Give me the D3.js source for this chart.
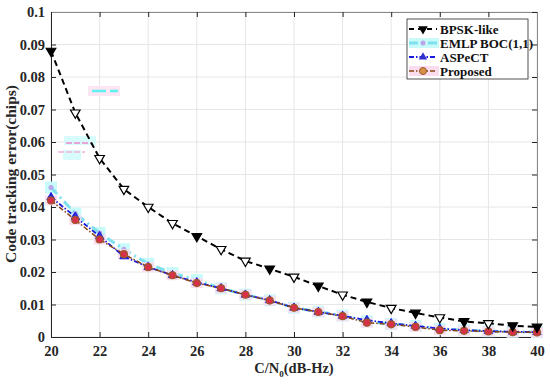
<!DOCTYPE html>
<html><head><meta charset="utf-8">
<script src="https://cdn.jsdelivr.net/npm/d3@7"></script>
<style>body{margin:0;background:#fff}svg{display:block}text{font-family:"Liberation Serif","Times New Roman",serif;font-weight:bold}</style>
</head><body><svg id="c" width="550" height="384"></svg>
<script>
const cn0 = [20,21,22,23,24,25,26,27,28,29,30,31,32,33,34,35,36,37,38,39,40];
const bpsk = [0.088,0.069,0.055,0.0455,0.040,0.035,0.031,0.027,0.0234,0.021,0.0185,0.0157,0.013,0.0108,0.0089,0.0074,0.006,0.0048,0.0042,0.0035,0.0031];
const emlp = [0.046,0.038,0.032,0.027,0.0225,0.0197,0.0175,0.015,0.013,0.0113,0.009,0.0078,0.0066,0.0048,0.0040,0.0034,0.0025,0.0021,0.0018,0.0016,0.0015];
const aspect = [0.043,0.037,0.031,0.0248,0.0215,0.019,0.0168,0.015,0.013,0.0113,0.009,0.0077,0.0065,0.0052,0.0042,0.0034,0.0026,0.0021,0.0018,0.0016,0.0015];
const proposed = [0.042,0.036,0.030,0.0255,0.0215,0.019,0.0166,0.015,0.013,0.0112,0.009,0.0077,0.0064,0.0044,0.0039,0.0031,0.0021,0.0019,0.0017,0.0015,0.0014];
const xTicks = [20,22,24,26,28,30,32,34,36,38,40];
const yTicks = [0,0.01,0.02,0.03,0.04,0.05,0.06,0.07,0.08,0.09,0.1];
const yTickLabels = ["0","0.01","0.02","0.03","0.04","0.05","0.06","0.07","0.08","0.09","0.1"];
const seriesNames = ["BPSK-like","EMLP BOC(1,1)","ASPeCT","Proposed"];
const bpskFilled = [1,0,0,0,0,0,1,0,0,1,0,1,0,1,0,1,0,1,0,1,1];

const svg = d3.select("#c");
const L=51,R=537,T=12,B=337;
const x = d3.scaleLinear().domain([20,40]).range([L,R]);
const y = d3.scaleLinear().domain([0,0.1]).range([B,T]);

// grid
const g = svg.append("g");
g.selectAll(".gx").data(xTicks).join("line").attr("x1",d=>x(d)).attr("x2",d=>x(d)).attr("y1",T).attr("y2",B).attr("stroke","#e6e6e6").attr("stroke-width",1);
g.selectAll(".gy").data(yTicks).join("line").attr("y1",d=>y(d)).attr("y2",d=>y(d)).attr("x1",L).attr("x2",R).attr("stroke","#e6e6e6").attr("stroke-width",1);

// faint ghost legend remnants seen in the original figure
const gh = svg.append("g");
gh.append("rect").attr("x",88).attr("y",86).attr("width",32).attr("height",10).attr("fill","#fde6f3");
gh.append("line").attr("x1",92).attr("x2",118).attr("y1",91).attr("y2",91).attr("stroke","#5ff0f0").attr("stroke-width",2.5).attr("stroke-dasharray","14,4,8,0");
gh.append("rect").attr("x",64).attr("y",136).attr("width",32).attr("height",9).attr("fill","#d8fbfb");
gh.append("line").attr("x1",66).attr("x2",92).attr("y1",143).attr("y2",143).attr("stroke","#ee88cc").attr("stroke-width",1.5).attr("stroke-dasharray","6,2");
gh.append("rect").attr("x",63).attr("y",150).attr("width",18).attr("height",10).attr("fill","#d8fbfb");
gh.append("line").attr("x1",58).attr("x2",85).attr("y1",152).attr("y2",152).attr("stroke","#f4b0dd").attr("stroke-width",1.5).attr("stroke-dasharray","6,2");

// axes
const xa = svg.append("g").attr("transform",`translate(0,${B})`).call(d3.axisBottom(x).tickValues(xTicks).tickSize(-5).tickPadding(9).tickFormat(d3.format("d")));
const ya = svg.append("g").attr("transform",`translate(${L},0)`).call(d3.axisLeft(y).tickValues(yTicks).tickSize(-5).tickPadding(6).tickFormat((d,i)=>yTickLabels[i]));
const xt = svg.append("g").attr("transform",`translate(0,${T})`).call(d3.axisTop(x).tickValues(xTicks).tickSize(-5).tickFormat(""));
const yr = svg.append("g").attr("transform",`translate(${R},0)`).call(d3.axisRight(y).tickValues(yTicks).tickSize(-5).tickFormat(""));
[xa,ya,xt,yr].forEach(a=>{a.selectAll("path").attr("stroke","#262626").attr("stroke-width",1);a.selectAll("line").attr("stroke","#262626");a.selectAll("text").attr("font-size",14.5).attr("fill","#262626").style("font-family","Liberation Serif").style("font-weight","bold");});
xt.select("path").attr("stroke","#888");yr.select("path").attr("stroke","#888");

// titles
svg.append("text").attr("x",294).attr("y",373).attr("text-anchor","middle").attr("font-size",14.5).attr("fill","#262626")
  .call(t=>{t.append("tspan").text("C/N");t.append("tspan").attr("font-size",9).attr("dy",4).text("0");t.append("tspan").attr("dy",-4).text("(dB-Hz)");});
svg.append("text").attr("transform","translate(16,174) rotate(-90)").attr("text-anchor","middle").attr("font-size",15.5).attr("fill","#262626").text("Code tracking error(chips)");

const line = d3.line().x((d,i)=>x(cn0[i])).y(d=>y(d));
const pg = svg.append("g");

// EMLP: pale cyan thick dash-dot
pg.selectAll(".em").data(emlp).join("rect").attr("x",(d,i)=>x(cn0[i])-6).attr("y",d=>y(d)-6).attr("width",12).attr("height",12).attr("fill","#c8fafa");
pg.append("path").datum(emlp).attr("d",line).attr("fill","none").attr("stroke","#7fe0f0").attr("stroke-width",3).attr("stroke-dasharray","9,4,2,4");
pg.selectAll(".emm").data(emlp).join("circle").attr("cx",(d,i)=>x(cn0[i])).attr("cy",d=>y(d)).attr("r",2.5).attr("fill","#b9a5e8");

// Proposed background
pg.selectAll(".pb").data(proposed).join("rect").attr("x",(d,i)=>x(cn0[i])-6).attr("y",d=>y(d)-5).attr("width",12).attr("height",10).attr("fill","#fbdcef").attr("opacity",0.9);

// ASPeCT
pg.append("path").datum(aspect).attr("d",line).attr("fill","none").attr("stroke","#1a1adc").attr("stroke-width",1.8).attr("stroke-dasharray","5,2,1.5,2");
const tri = d3.symbol().type(d3.symbolTriangle).size(30);
pg.selectAll(".am").data(aspect).join("path").attr("d",tri).attr("transform",(d,i)=>`translate(${x(cn0[i])},${y(d)})`).attr("fill","#3030d0").attr("stroke","#1a1adc");

// Proposed
pg.append("path").datum(proposed).attr("d",line).attr("fill","none").attr("stroke","#8b4513").attr("stroke-width",1.5).attr("stroke-dasharray","5,2,1.5,2");
pg.selectAll(".pm").data(proposed).join("circle").attr("cx",(d,i)=>x(cn0[i])).attr("cy",d=>y(d)).attr("r",3.5).attr("fill","#d9304a").attr("stroke","#9a5a2a").attr("stroke-width",1.2);

// BPSK
pg.append("path").datum(bpsk).attr("d",line).attr("fill","none").attr("stroke","#000").attr("stroke-width",2).attr("stroke-dasharray","6,4");
const dtri = d3.symbol().type(d3.symbolTriangle).size(40);
pg.selectAll(".bm").data(bpsk).join("path").attr("d",dtri).attr("transform",(d,i)=>`translate(${x(cn0[i])},${y(d)}) rotate(180)`).attr("fill",(d,i)=>bpskFilled[i]?"#000":"#fff").attr("stroke","#000").attr("stroke-width",1.2);

// legend
const lg = svg.append("g");
lg.append("rect").attr("x",407).attr("y",19).attr("width",121).attr("height",60).attr("fill","#fff").attr("stroke","#262626").attr("stroke-width",0.8);
const ly = [29,43,57,71];
const lx1=409,lx2=437,lm=423;
lg.append("line").attr("x1",lx1).attr("x2",lx2).attr("y1",ly[0]).attr("y2",ly[0]).attr("stroke","#000").attr("stroke-width",2).attr("stroke-dasharray","5,4");
lg.append("path").attr("d",dtri).attr("transform",`translate(${lm},${ly[0]}) rotate(180)`).attr("fill","#000");
lg.append("rect").attr("x",lx1).attr("y",ly[1]-5).attr("width",30).attr("height",10).attr("fill","#c8fafa");
lg.append("line").attr("x1",lx1).attr("x2",lx2).attr("y1",ly[1]).attr("y2",ly[1]).attr("stroke","#7fe0f0").attr("stroke-width",3).attr("stroke-dasharray","9,4,2,4");
lg.append("circle").attr("cx",lm).attr("cy",ly[1]).attr("r",2.5).attr("fill","#b9a5e8");
lg.append("line").attr("x1",lx1).attr("x2",lx2).attr("y1",ly[2]).attr("y2",ly[2]).attr("stroke","#1a1adc").attr("stroke-width",1.8).attr("stroke-dasharray","5,2,1.5,2");
lg.append("path").attr("d",tri).attr("transform",`translate(${lm},${ly[2]})`).attr("fill","#3030d0");
lg.append("rect").attr("x",lx1).attr("y",ly[3]-5).attr("width",30).attr("height",10).attr("fill","#fbdcef");
lg.append("line").attr("x1",lx1).attr("x2",lx2).attr("y1",ly[3]).attr("y2",ly[3]).attr("stroke","#8b4513").attr("stroke-width",1.5).attr("stroke-dasharray","5,2,1.5,2");
lg.append("circle").attr("cx",lm).attr("cy",ly[3]).attr("r",3.5).attr("fill","#d9904a").attr("stroke","#9a5a2a");
lg.selectAll(".lt").data(seriesNames).join("text").attr("x",440).attr("y",(d,i)=>ly[i]+4.5).attr("font-size",13).attr("fill","#111").text(d=>d);
</script></body></html>
